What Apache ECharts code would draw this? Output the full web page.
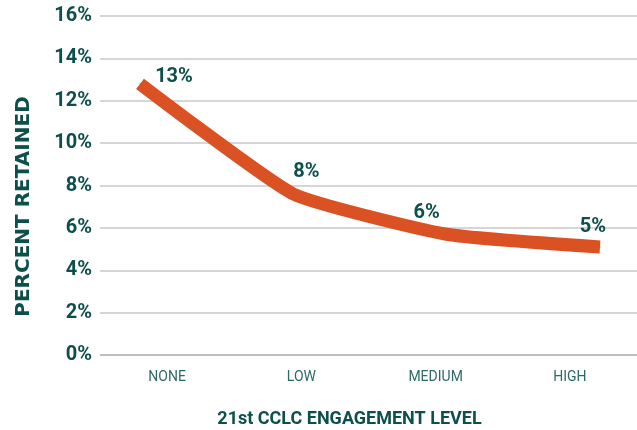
<!DOCTYPE html>
<html>
<head>
<meta charset="utf-8">
<script src="https://cdn.jsdelivr.net/npm/echarts@6/dist/echarts.min.js"></script>
<style>
  html, body { margin: 0; padding: 0; background: #fff; }
  #chart { width: 637px; height: 430px; }
</style>
</head>
<body>
<div id="chart"></div>
<script>
// engagement levels and share of students retained (%)
const categories = ['NONE', 'LOW', 'MEDIUM', 'HIGH']
const retained = [12.8, 7.6, 5.7, 5.1]
const yTicks = [0, 2, 4, 6, 8, 10, 12, 14, 16]

const green = '#0d4f4a'
const narrow = 'Roboto, sans-serif'

const chart = echarts.init(document.getElementById('chart'))

// per-point label nudges so the labels sit like the original
const labelOffsets = [[34, 17], [13, 2], [-20, 2], [-7, 4]]

chart.setOption({
  animation: false,
  grid: [
    { left: 100, right: 0, top: 16, bottom: 75, outerBoundsMode: 'none' },
    { left: 140, right: 37, top: 16, bottom: 75, outerBoundsMode: 'none' }
  ],
  xAxis: [
    {
      gridIndex: 0,
      type: 'category',
      data: categories,
      boundaryGap: true,
      axisLine: { show: false },
      axisTick: { show: false },
      axisLabel: {
        margin: 15,
        color: '#2e6a65',
        fontFamily: narrow,
        fontSize: 14
      },
      name: '21st CCLC ENGAGEMENT LEVEL',
      nameLocation: 'middle',
      nameGap: 55,
      nameTextStyle: {
        color: green,
        fontFamily: narrow,
        fontWeight: 'bold',
        fontSize: 18,
        padding: [0, 0, 0, -38]
      }
    },
    {
      gridIndex: 1,
      type: 'category',
      data: categories,
      boundaryGap: false,
      show: false
    }
  ],
  yAxis: [
    {
      gridIndex: 0,
      type: 'value',
      min: yTicks[0],
      max: yTicks[yTicks.length - 1],
      interval: 2,
      axisLine: { show: false },
      axisTick: { show: false },
      axisLabel: {
        formatter: '{value}%',
        margin: 8,
        color: green,
        fontFamily: narrow,
        fontWeight: 'bold',
        fontSize: 20
      },
      splitLine: {
        lineStyle: {
          color: ['#a9a9ab', '#c9c9cb', '#c9c9cb', '#c9c9cb', '#c9c9cb', '#c9c9cb', '#c9c9cb', '#c9c9cb', '#c9c9cb'],
          width: 1.5
        }
      },
      name: 'PERCENT RETAINED',
      nameLocation: 'middle',
      nameRotate: 90,
      nameGap: 66,
      nameTextStyle: {
        color: green,
        fontFamily: '"DejaVu Sans", sans-serif',
        fontWeight: 'bold',
        fontSize: 20,
        padding: [0, 42, 0, 0]
      }
    },
    {
      gridIndex: 1,
      type: 'value',
      min: yTicks[0],
      max: yTicks[yTicks.length - 1],
      show: false
    }
  ],
  series: [
    {
      type: 'line',
      xAxisIndex: 1,
      yAxisIndex: 1,
      smooth: 0.15,
      symbol: 'circle',
      symbolSize: 1,
      showSymbol: true,
      itemStyle: { color: '#da5124' },
      lineStyle: { color: '#da5124', width: 13, cap: 'butt', join: 'round' },
      data: retained.map((v, i) => ({
        value: v,
        label: { offset: labelOffsets[i] }
      })),
      label: {
        show: true,
        position: 'top',
        distance: 13,
        formatter: p => Math.round(p.value) + '%',
        color: green,
        fontFamily: narrow,
        fontWeight: 'bold',
        fontSize: 20
      }
    }
  ]
})
</script>
</body>
</html>
